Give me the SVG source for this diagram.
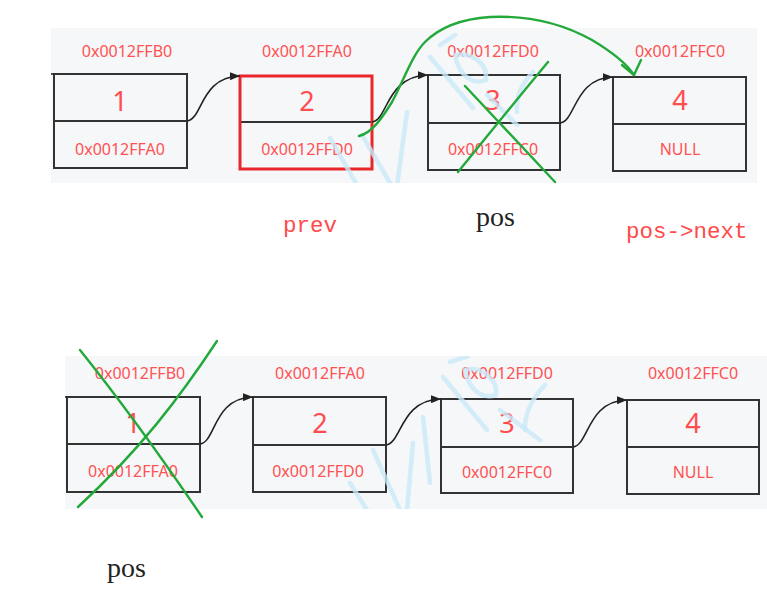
<svg xmlns="http://www.w3.org/2000/svg" width="767" height="592" viewBox="0 0 767 592">
<style>
.panel{fill:#f6f7f9}
.box{fill:none;stroke:#333;stroke-width:2}
.div{stroke:#333;stroke-width:2}
.addr{font-family:"Noto Sans","Liberation Sans",sans-serif;font-size:16px;fill:#ff5252;text-anchor:middle}
.num{font-family:"Noto Sans","Liberation Sans",sans-serif;font-size:27px;fill:#ff4d4f;text-anchor:middle}
.conn{fill:none;stroke:#222;stroke-width:1.6}
.wm{fill:none;stroke:#c9e9f8;stroke-width:4.5;stroke-linecap:round;opacity:0.8}
.green{fill:none;stroke:#22a93a;stroke-width:2.4;stroke-linecap:round;stroke-linejoin:round}
.mono{font-family:"Liberation Mono","DejaVu Sans Mono",monospace;font-size:22.5px;fill:#ff4a4a}
.serif{font-family:"Liberation Serif","DejaVu Serif",serif;font-size:28px;fill:#222}
</style>
<defs>
<marker id="arr" markerUnits="userSpaceOnUse" markerWidth="10" markerHeight="8" refX="10" refY="4" orient="auto">
<path d="M0,0 L10,4 L0,8 z" fill="#222"/>
</marker>
<clipPath id="clipTop"><rect x="51" y="28" width="706" height="155"/></clipPath>
<clipPath id="clipBot"><rect x="65" y="356" width="702" height="153"/></clipPath>
</defs>

<rect class="panel" x="51" y="28" width="706" height="155"/>
<rect class="panel" x="65" y="356" width="702" height="153"/>

<!-- top row -->
<g id="top-node1">
<text class="addr" x="127" y="57">0x0012FFB0</text>
<rect class="box" x="54" y="74" width="133" height="94"/>
<line class="div" x1="54" y1="121" x2="187" y2="121"/>
<text class="num" x="120" y="111">1</text>
<text class="addr" x="120" y="155">0x0012FFA0</text>
</g>
<g id="top-node2">
<text class="addr" x="307" y="57">0x0012FFA0</text>
<line class="div" x1="240" y1="122" x2="372" y2="122"/>
<rect x="240" y="76" width="132" height="93" fill="none" stroke="#e8262b" stroke-width="3"/>
<text class="num" x="307" y="111">2</text>
<text class="addr" x="307" y="155">0x0012FFD0</text>
</g>
<g id="top-node3">
<text class="addr" x="493" y="57">0x0012FFD0</text>
<rect class="box" x="428" y="75" width="132" height="95"/>
<line class="div" x1="428" y1="123" x2="560" y2="123"/>
<text class="num" x="493" y="110">3</text>
<text class="addr" x="493" y="155">0x0012FFC0</text>
</g>
<g id="top-node4">
<text class="addr" x="680" y="57">0x0012FFC0</text>
<rect class="box" x="613" y="77" width="133" height="94"/>
<line class="div" x1="613" y1="124" x2="746" y2="124"/>
<text class="num" x="680" y="110">4</text>
<text class="addr" x="680" y="155">NULL</text>
</g>

<!-- bottom row -->
<g id="bot-node1">
<text class="addr" x="140" y="379">0x0012FFB0</text>
<rect class="box" x="67" y="397" width="133" height="95"/>
<line class="div" x1="67" y1="444" x2="200" y2="444"/>
<text class="num" x="133" y="433">1</text>
<text class="addr" x="133" y="477">0x0012FFA0</text>
</g>
<g id="bot-node2">
<text class="addr" x="320" y="379">0x0012FFA0</text>
<rect class="box" x="253" y="397" width="133" height="95"/>
<line class="div" x1="253" y1="445" x2="386" y2="445"/>
<text class="num" x="320" y="433">2</text>
<text class="addr" x="318" y="477">0x0012FFD0</text>
</g>
<g id="bot-node3">
<text class="addr" x="507" y="379">0x0012FFD0</text>
<rect class="box" x="441" y="399" width="132" height="94"/>
<line class="div" x1="441" y1="447" x2="573" y2="447"/>
<text class="num" x="507" y="433">3</text>
<text class="addr" x="507" y="478">0x0012FFC0</text>
</g>
<g id="bot-node4">
<text class="addr" x="693" y="379">0x0012FFC0</text>
<rect class="box" x="627" y="400" width="132" height="94"/>
<line class="div" x1="627" y1="447" x2="759" y2="447"/>
<text class="num" x="693" y="433">4</text>
<text class="addr" x="693" y="478">NULL</text>
</g>

<g id="connectors">
<path class="conn" d="M51,74 L54,74"/>
<path class="conn" d="M187,121 C203,119 200,77 240,76" marker-end="url(#arr)"/>
<path class="conn" d="M372,122 C388,120 386,76 428,75" marker-end="url(#arr)"/>
<path class="conn" d="M560,123 C576,121 574,78 613,77" marker-end="url(#arr)"/>
<path class="conn" d="M65,397 L67,397"/>
<path class="conn" d="M200,444 C216,442 213,398 253,397" marker-end="url(#arr)"/>
<path class="conn" d="M386,445 C402,443 400,400 441,399" marker-end="url(#arr)"/>
<path class="conn" d="M573,447 C589,445 587,401 627,400" marker-end="url(#arr)"/>
</g>

<!-- watermark -->
<g id="watermark-top" clip-path="url(#clipTop)">
<path class="wm" d="M330,138 L357,185"/>
<path class="wm" d="M362,135 L390,183"/>
<path class="wm" d="M407,112 L397,186"/>
<path class="wm" d="M430,57 L473,108"/>
<path class="wm" d="M455,55 C470,52 488,62 486,80 C470,86 458,72 455,55"/>
<path class="wm" d="M487,95 L517,125"/>
<path class="wm" d="M533,72 C520,85 516,100 517,112"/>
<path class="wm" d="M440,45 L455,35"/>
</g>
<g id="watermark-bot" clip-path="url(#clipBot)">
<path class="wm" d="M350,483 L367,510"/>
<path class="wm" d="M373,450 L400,510"/>
<path class="wm" d="M413,443 L407,510"/>
<path class="wm" d="M443,377 L487,430"/>
<path class="wm" d="M465,370 C480,366 498,378 496,395 C480,400 468,387 465,370"/>
<path class="wm" d="M500,410 L540,440"/>
<path class="wm" d="M545,385 C530,400 524,418 525,430"/>
<path class="wm" d="M423,417 L430,483"/>
<path class="wm" d="M450,362 L468,356"/>
</g>

<!-- green annotations -->
<g id="annotations">
<path class="green" d="M359,136 C372,133 382,118 392,102 C404,80 412,55 425,42 C440,27 460,19 490,17 C530,15 565,25 592,40 C612,52 627,64 634,75"/>
<path class="green" d="M622,65 L634,75 L641,60"/>
<path class="green" d="M465,86 C495,118 525,150 555,182"/>
<path class="green" d="M548,62 C518,98 488,135 458,172"/>
<path class="green" d="M80,350 C120,400 160,455 202,517"/>
<path class="green" d="M217,341 C180,397 140,450 78,507"/>
</g>

<g id="labels">
<text class="mono" x="283" y="232">prev</text>
<text class="serif" x="476" y="226">pos</text>
<text class="mono" x="626" y="238">pos-&gt;next</text>
<text class="serif" x="107" y="577">pos</text>
</g>
</svg>
